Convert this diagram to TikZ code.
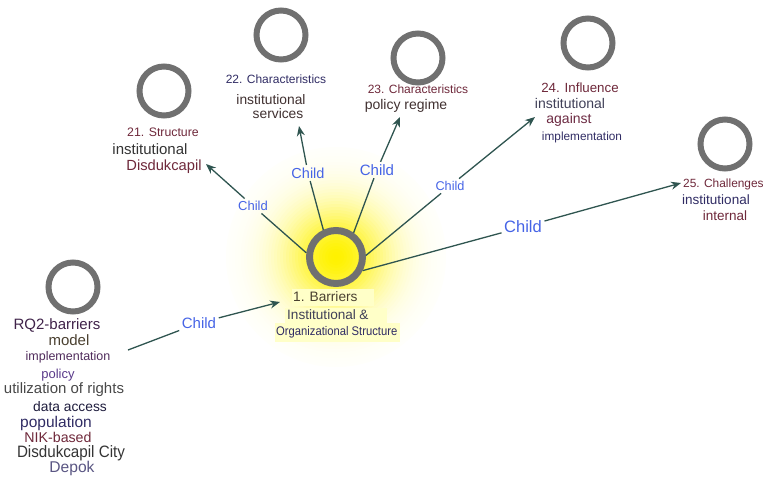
\documentclass[tikz,border=0pt]{standalone}
\usepackage{fontspec}
\usepackage{graphicx}
\setmainfont{Liberation Sans}
\usetikzlibrary{arrows.meta}

\definecolor{ringgray}{RGB}{112,112,112}
\definecolor{edgecol}{RGB}{47,85,80}
\definecolor{childblue}{RGB}{70,100,230}
\definecolor{hilite}{RGB}{255,255,200}
\definecolor{maroon}{RGB}{110,40,58}
\definecolor{navy}{RGB}{48,44,100}
\definecolor{plum}{RGB}{80,44,92}
\definecolor{violet}{RGB}{90,58,138}
\definecolor{olive}{RGB}{74,64,48}
\definecolor{ink}{RGB}{52,52,52}
\definecolor{brownink}{RGB}{64,48,48}
\definecolor{slate}{RGB}{64,64,88}

\newcommand\fsz[1]{\fontsize{#1}{#1}\selectfont}

\tikzset{
  ring/.style={circle, draw=ringgray, line width=6pt, minimum size=49pt, inner sep=0pt},
  edge/.style={draw=edgecol, line width=1.3pt},
  arr/.style={edge, -{Stealth[length=10pt,width=8pt]}},
  childlbl/.style={text=childblue, inner sep=2.5pt},
  txt/.style={inner sep=0pt},
  hl/.style={fill=hilite, anchor=west, align=left, inner ysep=0pt}
}

\begin{document}
\begin{tikzpicture}[x=1pt, y=-1pt]
\useasboundingbox (0,0) rectangle (764,479);

% soft glow behind the central topic: stacked discs fading to white
\foreach \r in {110,107,...,1}{
  \pgfmathsetmacro\p{100*exp(-(\r/54)^2)}
  \fill[yellow!\p!white] (336,257) circle (\r pt);
}

% topic rings
\node[ring, minimum size=53pt, line width=7pt] (c1) at (336,257) {};
\node[ring] (cR)  at (73,287) {};
\node[ring] (c21) at (164,91) {};
\node[ring] (c22) at (281,35) {};
\node[ring] (c23) at (418,58) {};
\node[ring] (c24) at (588,43) {};
\node[ring] (c25) at (725,144) {};

% central topic label
\node[hl, text width=80pt, inner xsep=1pt, minimum height=17pt, text=olive] (b1) at (292,297)
  {\fsz{13.7}1. Barriers};
\node[hl, text width=98pt, inner xsep=2pt, minimum height=15pt, text=slate] (b2) at (285,315)
  {\fsz{13.6}Institutional \&};
\node[hl, text width=123pt, inner xsep=1pt, minimum height=19pt, text=navy] (b3) at (275,332)
  {\fsz{12.5}\scalebox{0.9}[1]{Organizational Structure}};

% RQ2 topic label
\node[txt, text=plum!80!black] (r1) at (57,325) {\fsz{15}RQ2-barriers};
\node[txt, text=olive] (r2) at (69,340) {\fsz{15}model};
\node[txt, text=plum] (r3) at (68,357) {\fsz{12.5}implementation};
\node[txt, text=violet] (r4) at (58,375) {\fsz{13}policy};
\node[txt, text=ink!90] (r5) at (64,390) {\fsz{15}utilization of rights};
\node[txt, text=navy!60!black] (r6) at (70,407) {\fsz{13.8}data access};
\node[txt, text=navy] (r7) at (56,423) {\fsz{15.5}population};
\node[txt, text=maroon] (r8) at (58,437) {\fsz{14.2}NIK-based};
\node[txt, text=ink] (r9) at (71,453) {\fsz{16.5}\scalebox{0.92}[1]{Disdukcapil City}};
\node[txt, text=navy!80] (r10) at (72,468) {\fsz{15.6}Depok};

% topic 21
\node[txt, text=maroon] (a1) at (163,132) {\fsz{12.3}21. Structure};
\node[txt, text=ink] (a2) at (150,149) {\fsz{15}institutional};
\node[txt, text=maroon] (a3) at (164,167) {\fsz{14.7}Disdukcapil};

% topic 22
\node[txt, text=navy] (d1) at (276,79) {\fsz{12}22. Characteristics};
\node[txt, text=brownink] (d2) at (271,100) {\fsz{13.8}institutional};
\node[txt, text=brownink] (d3) at (278,114) {\fsz{13.8}services};

% topic 23
\node[txt, text=maroon] (e1) at (418,89) {\fsz{12}23. Characteristics};
\node[txt, text=brownink] (e2) at (406,106) {\fsz{14}policy regime};

% topic 24
\node[txt, text=maroon] (f1) at (580,88) {\fsz{13.3}24. Influence};
\node[txt, text=slate] (f2) at (570,103) {\fsz{14}institutional};
\node[txt, text=maroon!90!violet] (f3) at (569,120) {\fsz{14}against};
\node[txt, text=navy] (f4) at (582,137) {\fsz{11.8}implementation};

% topic 25
\node[txt, text=maroon, anchor=west] (g1) at (683,184) {\fsz{11.9}25. Challenges};
\node[txt, text=navy] (g2) at (716,200) {\fsz{13.5}institutional};
\node[txt, text=maroon] (g3) at (725,216) {\fsz{13.5}internal};

% relation labels
\node[childlbl] (chR)  at (199,323) {\fsz{15}Child};
\node[childlbl] (ch21) at (253,206) {\fsz{13}Child};
\node[childlbl] (ch22) at (308,173) {\fsz{14.5}Child};
\node[childlbl] (ch23) at (377,170) {\fsz{15}Child};
\node[childlbl] (ch24) at (450,186) {\fsz{12.7}Child};
\node[childlbl] (ch25) at (523,227) {\fsz{16.5}Child};

% connector end points
\coordinate (sR)  at (128,350);
\coordinate (tR)  at (280,302);
\coordinate (t21) at (206,164);
\coordinate (t22) at (299,126);
\coordinate (t23) at (400,117);
\coordinate (t24) at (535,117);
\coordinate (t25) at (681,183);

% connectors
\draw[edge] (sR) -- (chR);
\draw[arr]  (chR) -- (tR);
\draw[edge] (c1.172) -- (ch21);
\draw[arr]  (ch21) -- (t21);
\draw[edge] (c1.115) -- (ch22);
\draw[arr]  (ch22) -- (t22);
\draw[edge] (c1.54) -- (ch23);
\draw[arr]  (ch23) -- (t23);
\draw[edge] (c1.3) -- (ch24);
\draw[arr]  (ch24) -- (t24);
\draw[edge] (c1.-27) -- (ch25);
\draw[arr]  (ch25) -- (t25);
\end{tikzpicture}
\end{document}
